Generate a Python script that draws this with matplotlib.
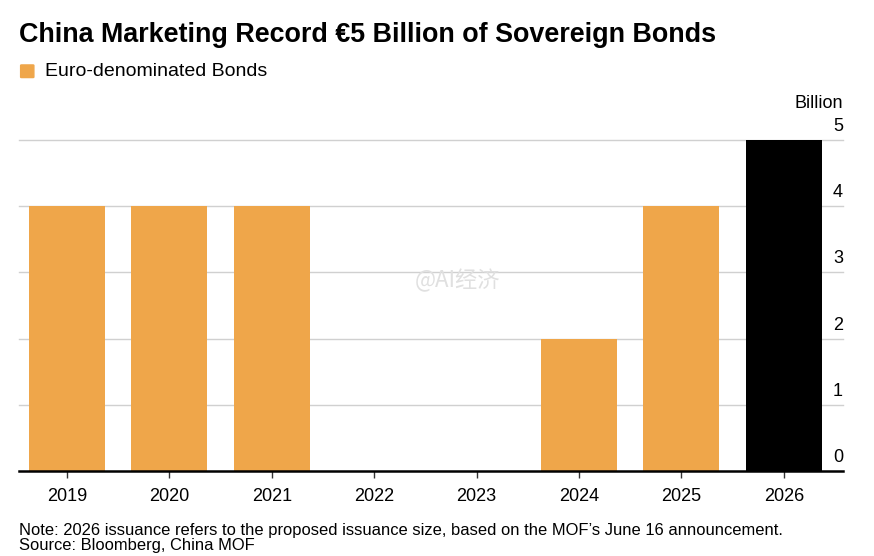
import numpy as np
import matplotlib
matplotlib.use("Agg")
import matplotlib.pyplot as plt
import matplotlib.transforms as mtransforms
from matplotlib.patches import FancyBboxPatch

plt.rcParams['font.family'] = ['Liberation Sans', 'DejaVu Sans']

# data
years = ['2019', '2020', '2021', '2022', '2023', '2024', '2025', '2026']
amounts = [4, 4, 4, 0, 0, 2, 4, 5]
y_ticks = [0, 1, 2, 3, 4, 5]

ORANGE = '#EFA64A'
W, H = 874, 556

fig = plt.figure(figsize=(W / 100, H / 100), dpi=100)
ax = fig.add_axes([19 / W, (H - 471) / H, (843 - 19) / W, (471 - 140) / H])

x = np.arange(len(years))
colors = [ORANGE] * (len(years) - 1) + ['black']
ax.bar(x, amounts, width=0.742, color=colors, zorder=2)

ax.set_xlim(-0.469, 7.578)
ax.set_ylim(0, 5)

# gridlines
for v in y_ticks[1:]:
    ax.axhline(v, color='#d0d0d0', lw=1, zorder=1, clip_on=False)
ax.axhline(0, color='black', lw=1.8, zorder=3, clip_on=False)

for s in ax.spines.values():
    s.set_visible(False)

ax.set_yticks([])
ax.set_xticks(x)
ax.set_xticklabels(years, fontsize=13)
ax.tick_params(axis='x', length=5, width=1, color='#333333', pad=7)

# y labels drawn above gridlines at right edge
trans = mtransforms.blended_transform_factory(ax.transAxes, ax.transData)
off = mtransforms.offset_copy(trans, fig=fig, x=0, y=5, units='dots')
for v in y_ticks:
    ax.text(1.0, v, str(v), transform=off, ha='right', va='bottom', fontsize=13)
ax.text(1.0, 5, 'Billion', transform=mtransforms.offset_copy(trans, fig=fig, x=0, y=28, units='dots'),
        ha='right', va='bottom', fontsize=13)

# title and legend
fig.text(19 / W, 1 - 35 / H, 'China Marketing Record €5 Billion of Sovereign Bonds',
         fontsize=19.4, fontweight='bold', va='center', ha='left')
fig.patches.append(FancyBboxPatch((21.5 / W, 1 - 77 / H), 11.5 / W, 11.5 / H,
                                  boxstyle='round,pad=0.001', transform=fig.transFigure,
                                  fc=ORANGE, ec=ORANGE, lw=1))
fig.text(45 / W, 1 - 71 / H, 'Euro-denominated Bonds', fontsize=14, va='center', ha='left')

# watermark
fig.text(458 / W, 1 - 280 / H, '@AI经济', fontsize=16, color='#e0e0e0', va='center', ha='center',
         family=['Noto Sans CJK SC', 'DejaVu Sans'], zorder=5)

# notes
fig.text(19 / W, 1 - 531 / H,
         "Note: 2026 issuance refers to the proposed issuance size, based on the MOF’s June 16 announcement.",
         fontsize=11.9, va='center', ha='left')
fig.text(19 / W, 1 - 550 / H, 'Source: Bloomberg, China MOF', fontsize=11.9, va='baseline', ha='left')

fig.savefig('out.png', dpi=100, facecolor='white')
